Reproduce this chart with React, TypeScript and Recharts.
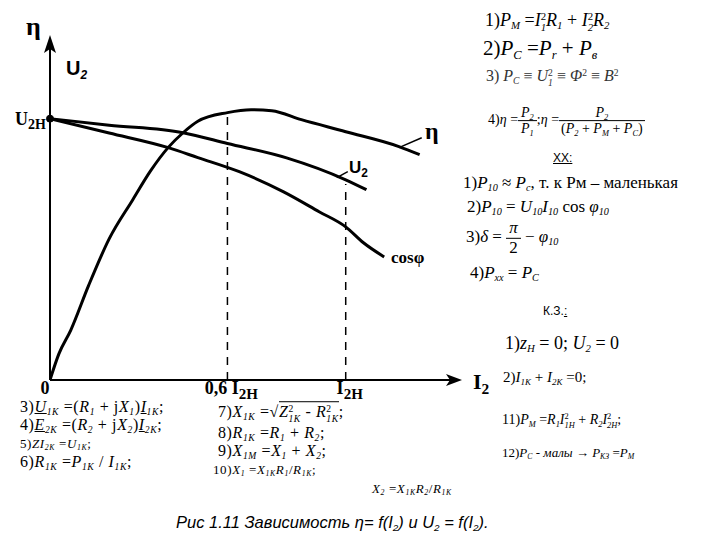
import React from 'react';
import { LineChart, Line, XAxis, YAxis, ReferenceLine, ReferenceDot } from 'recharts';

// I2 in units of I2H, values in units of U2H
const etaX = [0, 0.03, 0.07, 0.13, 0.2, 0.28, 0.34, 0.4, 0.45, 0.5, 0.6, 0.68, 0.75, 0.85, 1.0, 1.18, 1.25];
const etaY = [0, 0.1, 0.19, 0.36, 0.54, 0.69, 0.8, 0.89, 0.946, 0.99, 1.023, 1.034, 1.03, 0.996, 0.95, 0.893, 0.862];
const u2X = [0, 0.2, 0.45, 0.6, 0.8, 1.0, 1.07];
const u2Y = [1.0, 0.975, 0.946, 0.905, 0.85, 0.766, 0.728];
const cosX = [0, 0.2, 0.4, 0.5, 0.64, 0.79, 0.91, 1.0, 1.06, 1.13];
const cosY = [1.0, 0.945, 0.889, 0.851, 0.797, 0.72, 0.644, 0.586, 0.525, 0.471];

const xTicks = [0, 0.6, 1.0];
const xTickMain = ['0', '0,6 I', 'I'];
const xTickSub = ['', '2H', '2H'];
const yTicks = [1.0];

const toPts = (xs: number[], ys: number[]) => xs.map((x, i) => ({ x, y: ys[i] }));
const etaData = toPts(etaX, etaY);
const u2Data = toPts(u2X, u2Y);
const cosData = toPts(cosX, cosY);

const SERIF = '"Liberation Serif", "Times New Roman", serif';
const SANS = '"Liberation Sans", Arial, sans-serif';

const XTick = (props: any) => {
  const { x, y, payload } = props;
  const i = xTicks.indexOf(payload.value);
  return (
    <text x={x + (i === 0 ? -5 : 4)} y={y + 6} textAnchor="middle" fontFamily={SERIF} fontWeight="bold" fontSize={18} fill="#000">
      {xTickMain[i]}
      {xTickSub[i] && <tspan dy={5} fontSize={15}>{xTickSub[i]}</tspan>}
    </text>
  );
};

const YTick = (props: any) => {
  const { x, y } = props;
  return (
    <text x={x + 4} y={y + 6} textAnchor="end" fontFamily={SERIF} fontWeight="bold" fontSize={18} fill="#000">
      U<tspan dy={4} fontSize={14}>2H</tspan>
    </text>
  );
};

const Sub = ({ children }: any) => (
  <span style={{ fontSize: '0.6em', position: 'relative', top: '0.3em', fontStyle: 'italic' }}>{children}</span>
);
const Sup = ({ children }: any) => (
  <span style={{ fontSize: '0.6em', position: 'relative', top: '-0.5em' }}>{children}</span>
);
// stacked superscript over subscript
const SS = ({ sub, sup }: any) => (
  <span style={{ display: 'inline-flex', flexDirection: 'column', fontSize: '0.6em', lineHeight: 1.02, verticalAlign: '0.55em' }}>
    <span>{sup}</span>
    <span style={{ fontStyle: 'italic' }}>{sub}</span>
  </span>
);
const Frac = ({ num, den }: any) => (
  <span style={{ display: 'inline-flex', flexDirection: 'column', alignItems: 'center', verticalAlign: 'middle', lineHeight: 1.1 }}>
    <span style={{ borderBottom: '1px solid #000', padding: '0 3px', alignSelf: 'stretch', textAlign: 'center' }}>{num}</span>
    <span style={{ padding: '0 2px' }}>{den}</span>
  </span>
);
const V = ({ children }: any) => <i>{children}</i>;

const T = ({ left, cy, size, family = SERIF, color = '#000', children, style }: any) => (
  <div
    style={{
      position: 'absolute', left, top: cy, transform: 'translateY(-50%)', fontSize: size,
      fontFamily: family, color, whiteSpace: 'nowrap', lineHeight: 1, ...style,
    }}
  >
    {children}
  </div>
);

const wide = { letterSpacing: 0.6 };

const arrowUp = (p: any) => (
  <polygon points={`${p.cx},${p.cy} ${p.cx - 6},${p.cy + 18} ${p.cx},${p.cy + 14} ${p.cx + 6},${p.cy + 18}`} fill="#000" />
);
const arrowRight = (p: any) => (
  <polygon points={`${p.cx - 2},${p.cy} ${p.cx - 18},${p.cy - 6} ${p.cx - 14},${p.cy} ${p.cx - 18},${p.cy + 6}`} fill="#000" />
);

export default function App() {
  return (
    <div style={{ position: 'absolute', left: 0, top: 0, width: 720, height: 540, background: '#fff', overflow: 'hidden' }}>
      <LineChart width={720} height={540} margin={{ top: 35, right: 256, bottom: 130, left: 0 }}>
        <XAxis type="number" dataKey="x" domain={[0, 1.4]} ticks={xTicks} height={30} axisLine={false} tickLine={false} tick={<XTick />} allowDataOverflow />
        <YAxis type="number" domain={[0, 1.32]} ticks={yTicks} width={50} axisLine={false} tickLine={false} tick={<YTick />} allowDataOverflow />
        <ReferenceLine segment={[{ x: 0, y: 0 }, { x: 0, y: 1.29 }]} stroke="#000" strokeWidth={2} ifOverflow="visible" />
        <ReferenceLine segment={[{ x: 0, y: 0 }, { x: 1.36, y: 0 }]} stroke="#000" strokeWidth={2} ifOverflow="visible" />
        <ReferenceDot x={0} y={1.32} shape={arrowUp} ifOverflow="visible" />
        <ReferenceDot x={1.4} y={0} shape={arrowRight} ifOverflow="visible" />
        <ReferenceLine segment={[{ x: 0.6, y: 0 }, { x: 0.6, y: 1.02 }]} stroke="#000" strokeWidth={1.5} strokeDasharray="8 7" />
        <ReferenceLine segment={[{ x: 1.0, y: 0 }, { x: 1.0, y: 0.75 }]} stroke="#000" strokeWidth={1.5} strokeDasharray="8 7" />
        <ReferenceLine segment={[{ x: 1.18, y: 0.889 }, { x: 1.257, y: 0.927 }]} stroke="#000" strokeWidth={1.5} ifOverflow="visible" />
        <ReferenceLine segment={[{ x: 0.97, y: 0.774 }, { x: 1.007, y: 0.797 }]} stroke="#000" strokeWidth={1.5} ifOverflow="visible" />
        <Line data={etaData} dataKey="y" type="monotone" stroke="#000" strokeWidth={3} dot={false} isAnimationActive={false} />
        <Line data={u2Data} dataKey="y" type="monotone" stroke="#000" strokeWidth={3} dot={false} isAnimationActive={false} />
        <Line data={cosData} dataKey="y" type="monotone" stroke="#000" strokeWidth={3} dot={false} isAnimationActive={false} />
        <ReferenceDot x={0} y={1.0} r={3.5} fill="#000" stroke="#000" ifOverflow="visible" />
      </LineChart>

      {/* axis titles and curve labels */}
      <T left={26} cy={27} size={26} style={{ fontWeight: 'bold' }}>η</T>
      <T left={66} cy={68} size={20} family={SANS} style={{ fontWeight: 'bold' }}>U<Sub>2</Sub></T>
      <T left={473} cy={382} size={22} style={{ fontWeight: 'bold' }}>I<span style={{ fontSize: '0.7em', position: 'relative', top: '0.3em' }}>2</span></T>
      <T left={425} cy={131} size={24} style={{ fontWeight: 'bold' }}>η</T>
      <T left={349} cy={167} size={17} family={SANS} style={{ fontWeight: 'bold' }}>U<span style={{ fontSize: '0.7em', position: 'relative', top: '0.3em' }}>2</span></T>
      <T left={391} cy={257} size={17} style={{ fontWeight: 'bold' }}>cosφ</T>

      {/* top right */}
      <T left={485} cy={22} size={18}>1)<V>P</V><Sub>М</Sub> =<V>I</V><SS sup="2" sub="1" /><V>R</V><Sub>1</Sub> + <V>I</V><SS sup="2" sub="2" /><V>R</V><Sub>2</Sub></T>
      <T left={483} cy={48} size={21}>2)<V>P</V><Sub>C</Sub> =<V>P</V><Sub>r</Sub> + <V>P</V><Sub>в</Sub></T>
      <T left={486} cy={78} size={16} color="#333">3) <V>P</V><Sub>C</Sub> ≡ <V>U</V><SS sup="2" sub="1" /> ≡ <V>Φ</V><Sup>2</Sup> ≡ <V>B</V><Sup>2</Sup></T>
      <T left={488} cy={121} size={14}>
        4)<V>η</V> =<Frac num={<><V>P</V><Sub>2</Sub></>} den={<><V>P</V><Sub>1</Sub></>} />;<V>η</V> =
        <Frac num={<><V>P</V><Sub>2</Sub></>} den={<>(<V>P</V><Sub>2</Sub> + <V>P</V><Sub>M</Sub> + <V>P</V><Sub>C</Sub>)</>} />
      </T>
      <T left={553} cy={158} size={12} family={SANS} style={{ textDecoration: 'underline' }}>ХХ:</T>
      <T left={463} cy={182} size={17}>1)<V>P</V><Sub>10</Sub> ≈ <V>P</V><Sub>c</Sub>, т. к Рм – маленькая</T>
      <T left={467} cy={206} size={17}>2)<V>P</V><Sub>10</Sub> = <V>U</V><Sub>10</Sub><V>I</V><Sub>10</Sub> cos <V>φ</V><Sub>10</Sub></T>
      <T left={466} cy={238} size={17}>3)<V>δ</V> = <Frac num={<V>π</V>} den="2" /> − <V>φ</V><Sub>10</Sub></T>
      <T left={470} cy={272} size={17}>4)<V>P</V><Sub>xx</Sub> = <V>P</V><Sub>C</Sub></T>
      <T left={543} cy={311} size={12} family={SANS}>К.З.<u>:</u></T>
      <T left={505} cy={343} size={18}>1)<V>z</V><Sub>H</Sub> = 0; <V>U</V><Sub>2</Sub> = 0</T>
      <T left={503} cy={377} size={15}>2)<V>I</V><Sub>1K</Sub> + <V>I</V><Sub>2K</Sub> =0;</T>

      {/* bottom left */}
      <T left={20} cy={407} size={16} style={wide}>3)<V><u>U</u></V><Sub>1K</Sub> =(<V>R</V><Sub>1</Sub> + j<V>X</V><Sub>1</Sub>)<V><u>I</u></V><Sub>1K</Sub>;</T>
      <T left={20} cy={425} size={16} style={wide}>4)<V><u>E</u></V><Sub>2K</Sub> =(<V>R</V><Sub>2</Sub> + j<V>X</V><Sub>2</Sub>)<V><u>I</u></V><Sub>2K</Sub>;</T>
      <T left={20} cy={443} size={13} style={wide}>5)<V>ZI</V><Sub>2K</Sub> =<V>U</V><Sub>1K</Sub>;</T>
      <T left={20} cy={462} size={16} style={wide}>6)<V>R</V><Sub>1K</Sub> =<V>P</V><Sub>1K</Sub> / <V>I</V><Sub>1K</Sub>;</T>
      <T left={218} cy={414} size={16} style={wide}>7)<V>X</V><Sub>1K</Sub> =√<span style={{ borderTop: '1px solid #000', paddingTop: 1 }}><V>Z</V><SS sup="2" sub="1K" /> - <V>R</V><SS sup="2" sub="1K" /></span>;</T>
      <T left={218} cy={433} size={16} style={wide}>8)<V>R</V><Sub>1K</Sub> =<V>R</V><Sub>1</Sub> + <V>R</V><Sub>2</Sub>;</T>
      <T left={218} cy={451} size={16} style={wide}>9)<V>X</V><Sub>1M</Sub> =<V>X</V><Sub>1</Sub> + <V>X</V><Sub>2</Sub>;</T>
      <T left={213} cy={469} size={13} style={wide}>10)<V>X</V><Sub>1</Sub> =<V>X</V><Sub>1K</Sub><V>R</V><Sub>1</Sub>/<V>R</V><Sub>1K</Sub>;</T>
      <T left={372} cy={488} size={13} style={wide}><V>X</V><Sub>2</Sub> =<V>X</V><Sub>1K</Sub><V>R</V><Sub>2</Sub>/<V>R</V><Sub>1K</Sub></T>
      <T left={502} cy={422} size={14}>11)<V>P</V><Sub>M</Sub> =<V>R</V><Sub>1</Sub><V>I</V><SS sup="2" sub="1H" /> + <V>R</V><Sub>2</Sub><V>I</V><SS sup="2" sub="2H" />;</T>
      <T left={502} cy={452} size={13}>12)<V>P</V><Sub>C</Sub> - <V>малы</V> → <V>P</V><Sub>КЗ</Sub> =<V>P</V><Sub>M</Sub></T>

      <T left={176} cy={522} size={16.5} family={SANS} style={{ fontStyle: 'italic' }}>
        Рис 1.11 Зависимость η= f(I<Sub>2</Sub>) и U<Sub>2</Sub> = f(I<Sub>2</Sub>).
      </T>
    </div>
  );
}
